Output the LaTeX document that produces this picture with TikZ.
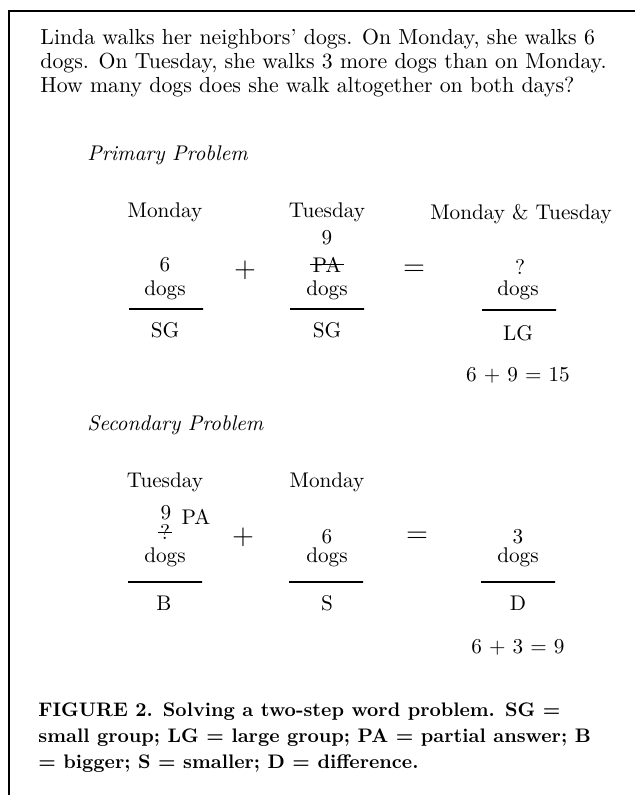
\documentclass[tikz,border=0pt]{standalone}
\usepackage{tikz}
\begin{document}
\begin{tikzpicture}[
    x=0.5pt, y=-0.5pt,
    txt/.style={inner sep=0pt, font=\fontsize{10.6}{12}\selectfont},
    para/.style={inner sep=0pt, align=left, anchor=north west, font=\fontsize{10.9}{12}\selectfont},
    subtitle/.style={inner sep=0pt, anchor=west, font=\fontsize{10.6}{12}\selectfont\itshape},
    op/.style={inner sep=0pt, font=\fontsize{14}{16}\selectfont},
    bar/.style={draw, line width=0.75pt, minimum width=37pt, minimum height=0pt, inner sep=0pt},
    struck/.style={txt, inner xsep=1pt, append after command={(\tikzlastnode.west) edge[line width=0.5pt] (\tikzlastnode.east)}},
    caption/.style={inner sep=0pt, align=left, anchor=north west, font=\fontsize{9.8}{13}\selectfont\bfseries}
]
    \useasboundingbox (0,0) rectangle (635,795);

    % Frame (left and top rules only)
    \draw[line width=1pt] (9,795) -- (9,11) -- (635,11);

    % Word problem
    \node[para] (problem) at (40,29) {Linda walks her neighbors’ dogs. On Monday, she walks 6\\
        dogs. On Tuesday, she walks 3 more dogs than on Monday.\\
        How many dogs does she walk altogether on both days?};

    % Primary problem
    \node[subtitle] (primary) at (87,155) {Primary Problem};

    \node[txt] (P_MON) at (165,212) {Monday};
    \node[txt] (P_TUE) at (327,212) {Tuesday};
    \node[txt] (P_BOTH) at (521,214) {Monday \& Tuesday};

    \node[txt] (P_SIX) at (165,265) {6};
    \node[txt] (P_DOGS1) at (165,290) {dogs};
    \node[bar] (P_BAR1) at (166,309) {};
    \node[txt] (P_SG1) at (165,330) {SG};

    \node[op] (P_PLUS) at (245,270) {$+$};

    \node[txt] (P_NINE) at (327,238) {9};
    \node[struck] (P_PA) at (327,265) {PA};
    \node[txt] (P_DOGS2) at (327,290) {dogs};
    \node[bar] (P_BAR2) at (327,309) {};
    \node[txt] (P_SG2) at (327,330) {SG};

    \node[op] (P_EQ) at (414,270) {$=$};

    \node[txt] (P_Q) at (520,267) {?};
    \node[txt] (P_DOGS3) at (518,290) {dogs};
    \node[bar] (P_BAR3) at (519,310) {};
    \node[txt] (P_LG) at (518,333) {LG};

    \node[txt] (P_SUM) at (518,375) {6 + 9 = 15};

    % Secondary problem
    \node[subtitle] (secondary) at (87,425) {Secondary Problem};

    \node[txt] (S_TUE) at (165,482) {Tuesday};
    \node[txt] (S_MON) at (327,482) {Monday};

    \node[txt] (S_NINE) at (166,513) {9};
    \node[txt] (S_PA) at (196,517) {PA};
    \node[struck] (S_Q) at (165,532) {?};
    \node[txt] (S_DOGS1) at (165,557) {dogs};
    \node[bar] (S_BAR1) at (165,582) {};
    \node[txt] (S_B) at (164,603) {B};

    \node[op] (S_PLUS) at (243,537) {$+$};

    \node[txt] (S_SIX) at (327,537) {6};
    \node[txt] (S_DOGS2) at (327,557) {dogs};
    \node[bar] (S_BAR2) at (326,582) {};
    \node[txt] (S_S) at (327,603) {S};

    \node[op] (S_EQ) at (417,537) {$=$};

    \node[txt] (S_THREE) at (518,537) {3};
    \node[txt] (S_DOGS3) at (518,557) {dogs};
    \node[bar] (S_BAR3) at (518,582) {};
    \node[txt] (S_D) at (518,603) {D};

    \node[txt] (S_DIFF) at (518,647) {6 + 3 = 9};

    % Caption
    \node[caption] (figcap) at (38,702) {FIGURE 2. Solving a two-step word problem. SG =\\
        small group; LG = large group; PA = partial answer; B\\
        = bigger; S = smaller; D = difference.};

\end{tikzpicture}
\end{document}
